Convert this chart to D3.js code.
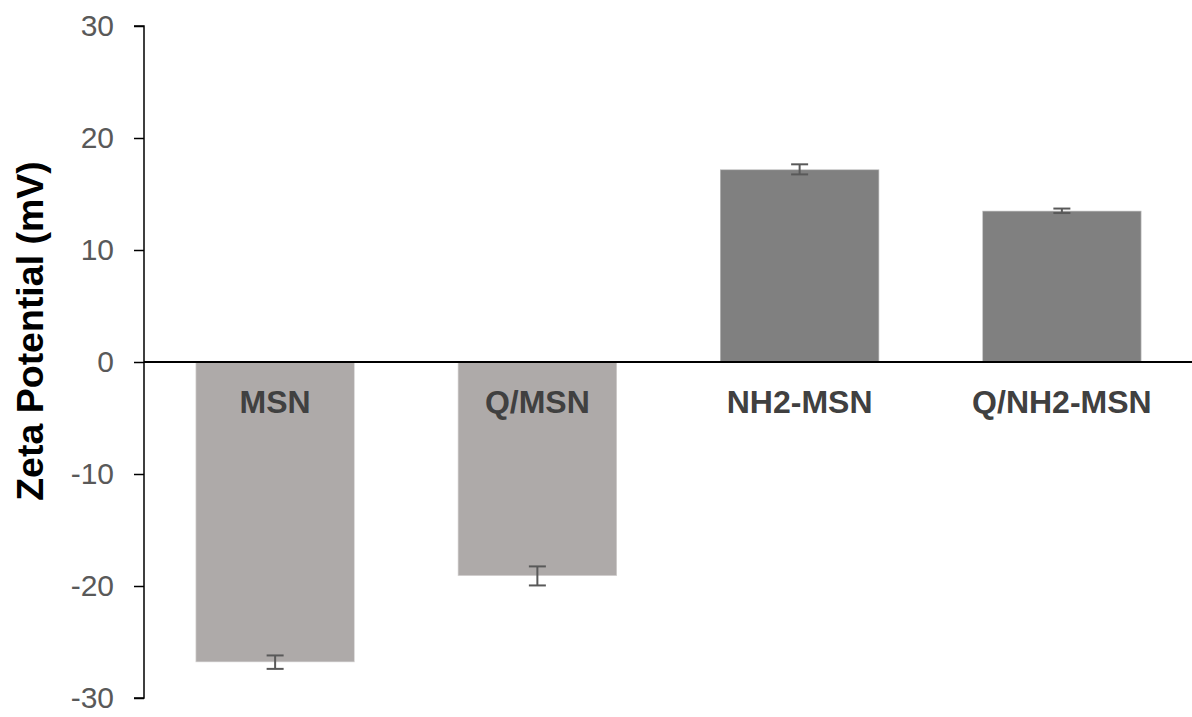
<!DOCTYPE html>
<html>
<head>
<meta charset="utf-8">
<script src="https://cdn.jsdelivr.net/npm/d3@7/dist/d3.min.js"></script>
<style>
  html, body { margin: 0; padding: 0; background: #fff; }
  svg { display: block; }
</style>
</head>
<body>
<svg id="chart" width="1192" height="717"></svg>
<script>
const categories = ["MSN", "Q/MSN", "NH2-MSN", "Q/NH2-MSN"];
const values = [-26.8, -19.1, 17.2, 13.5];
const errors = [0.6, 0.85, 0.45, 0.2];
const barColors = ["#AEAAA9", "#AEAAA9", "#808080", "#808080"];
const yTicks = [-30, -20, -10, 0, 10, 20, 30];
const yTitle = "Zeta Potential (mV)";

const svg = d3.select("#chart");
const font = "'Liberation Sans', Arial, sans-serif";

const y = d3.scaleLinear().domain([-30, 30]).range([698, 26]);
const x = d3.scaleBand().domain(categories).range([144, 1193])
  .paddingInner(0.393).paddingOuter(0.1965);

// bars
svg.append("g").selectAll("rect").data(values).join("rect")
  .attr("x", (d, i) => x(categories[i]))
  .attr("width", x.bandwidth())
  .attr("y", d => y(Math.max(0, d)))
  .attr("height", d => Math.abs(y(d) - y(0)))
  .attr("fill", (d, i) => barColors[i])
  .attr("stroke", "#ffffff")
  .attr("stroke-opacity", 0.45)
  .attr("stroke-width", 1.5);

// error bars
const eg = svg.append("g").attr("stroke", "#595959").attr("stroke-width", 2).attr("fill", "none");
values.forEach((v, i) => {
  const cx = x(categories[i]) + x.bandwidth() / 2;
  const y1 = y(v - errors[i]), y2 = y(v + errors[i]);
  eg.append("line").attr("x1", cx).attr("x2", cx).attr("y1", y1).attr("y2", y2);
  eg.append("line").attr("x1", cx - 8.5).attr("x2", cx + 8.5).attr("y1", y1).attr("y2", y1);
  eg.append("line").attr("x1", cx - 8.5).attr("x2", cx + 8.5).attr("y1", y2).attr("y2", y2);
});

// y axis
const yAxis = d3.axisLeft(y).tickValues(yTicks).tickSize(10).tickPadding(20).tickFormat(d => String(d));
const ga = svg.append("g").attr("transform", "translate(144,0)").call(yAxis);
ga.select(".domain").attr("stroke", "#000").attr("stroke-width", 1.5).attr("d", "M-10,26H0V698H-10");
ga.selectAll(".tick line").attr("stroke", "#000").attr("stroke-width", 1.5);
ga.selectAll(".tick text").attr("fill", "#595959").style("font-family", font).style("font-size", "30px");

// zero line
svg.append("line").attr("x1", 144).attr("x2", 1192).attr("y1", y(0)).attr("y2", y(0))
  .attr("stroke", "#000").attr("stroke-width", 2);

// category labels
svg.append("g").selectAll("text").data(categories).join("text")
  .attr("x", d => x(d) + x.bandwidth() / 2)
  .attr("y", 413)
  .attr("text-anchor", "middle")
  .attr("fill", "#404040")
  .style("font-family", font).style("font-weight", "bold").style("font-size", "32px")
  .text(d => d);

// y title
svg.append("text")
  .attr("transform", "translate(43,331) rotate(-90)")
  .attr("text-anchor", "middle")
  .attr("fill", "#000")
  .style("font-family", font).style("font-weight", "bold").style("font-size", "37.5px")
  .text(yTitle);
</script>
</body>
</html>
